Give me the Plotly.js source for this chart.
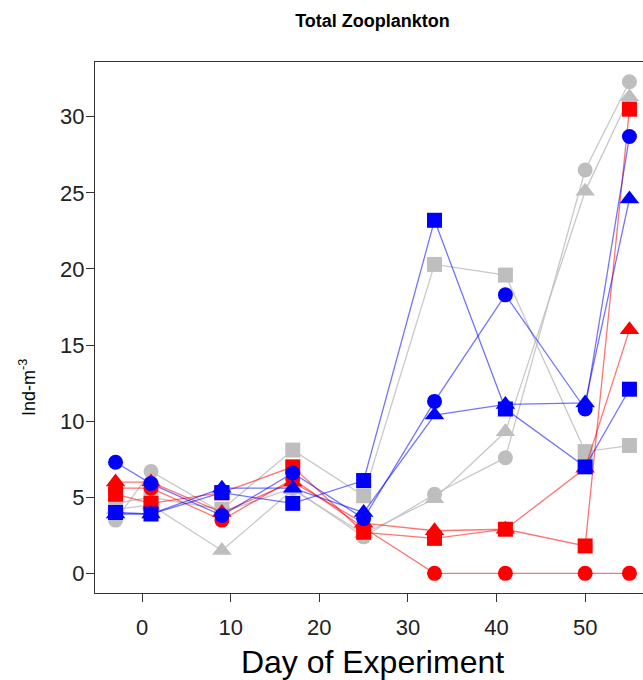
<!DOCTYPE html>
<html>
<head>
<meta charset="utf-8">
<script src="https://cdn.plot.ly/plotly-3.0.1.min.js"></script>
<style>
html,body{margin:0;padding:0;overflow:hidden;background:#fff;width:643px;height:680px;}
#chart{width:660px;height:680px;}
</style>
</head>
<body>
<div id="chart"></div>
<script>
var days = [-3, 1, 9, 17, 25, 33, 41, 50, 55];

var grayCircle   = [3.5, 6.7, 4.0, 5.6, 2.4, 5.2, 7.6, 26.5, 32.3];
var graySquare   = [4.6, 5.0, 4.2, 8.1, 5.1, 20.3, 19.6, 8.0, 8.4];
var grayTriangle = [4.2, 4.5, 1.5, 5.5, 2.6, 4.9, 9.3, 25.1, 31.3];

var redCircle    = [5.6, 5.6, 3.5, 6.2, 3.0, 0, 0, 0, 0];
var redSquare    = [5.2, 4.6, 5.3, 7.0, 2.7, 2.3, 2.9, 1.8, 30.5];
var redTriangle  = [6.0, 6.0, 4.0, 6.0, 3.3, 2.8, 2.9, 6.9, 16.0];

var blueCircle   = [7.3, 5.9, 3.8, 6.6, 3.6, 11.3, 18.3, 10.8, 28.7];
var blueSquare   = [4.0, 3.9, 5.3, 4.6, 6.1, 23.2, 10.8, 7.0, 12.1];
var blueTriangle = [3.9, 3.9, 5.6, 5.6, 4.0, 10.4, 11.1, 11.2, 24.6];

var xTicks = [0, 10, 20, 30, 40, 50];
var yTicks = [0, 5, 10, 15, 20, 25, 30];

var groups = [
  {color: '#BEBEBE', line: 'rgba(190,190,190,0.85)', series: [grayCircle, graySquare, grayTriangle]},
  {color: '#FF0000', line: 'rgba(255,0,0,0.55)', series: [redCircle, redSquare, redTriangle]},
  {color: '#0000FF', line: 'rgba(0,0,255,0.55)', series: [blueCircle, blueSquare, blueTriangle]}
];
var symbols = ['circle', 'square', 'triangle-up'];
var sizes = [15, 15, 17];

var traces = [];
groups.forEach(function(g){
  g.series.forEach(function(s, i){
    traces.push({
      x: days, y: s, type: 'scatter', mode: 'lines+markers',
      line: {color: g.line, width: 1.3},
      marker: {symbol: symbols[i], size: sizes[i], color: g.color, line: {width: 0}},
      showlegend: false, hoverinfo: 'x+y'
    });
  });
});

var font = 'Liberation Sans, Arial, sans-serif';
var layout = {
  width: 660, height: 680,
  margin: {l: 95, r: 10, t: 62, b: 87},
  paper_bgcolor: '#fff', plot_bgcolor: '#fff',
  showlegend: false,
  title: {text: '<b>Total Zooplankton</b>', font: {family: font, size: 18, color: '#000'},
          x: 0.5, xref: 'paper', y: 0.97, yref: 'container', yanchor: 'middle'},
  xaxis: {
    range: [-5.32, 57.32], tickvals: xTicks, ticktext: xTicks.map(String),
    showgrid: false, zeroline: false, showline: true, mirror: true,
    linecolor: '#333', linewidth: 1, ticks: 'outside', ticklen: 8, tickcolor: '#333',
    ticklabelstandoff: 7,
    tickfont: {family: font, size: 22, color: '#222'},
    title: {text: 'Day of Experiment', font: {family: font, size: 32, color: '#000'}, standoff: 11}
  },
  yaxis: {
    range: [-1.29, 33.6], tickvals: yTicks, ticktext: yTicks.map(String),
    showgrid: false, zeroline: false, showline: true, mirror: true,
    linecolor: '#333', linewidth: 1, ticks: 'outside', ticklen: 8, tickcolor: '#333',
    ticklabelstandoff: -3,
    tickfont: {family: font, size: 22, color: '#222'}
  },
  annotations: [{
    text: 'Ind-m<sup>-3</sup>', textangle: -90, showarrow: false,
    xref: 'paper', x: -95/555, xanchor: 'center', xshift: 27,
    yref: 'paper', y: (593 - 388) / 531, yanchor: 'middle',
    font: {family: font, size: 18, color: '#000'}
  }]
};

Plotly.newPlot('chart', traces, layout, {displayModeBar: false, staticPlot: true});
</script>
</body>
</html>
